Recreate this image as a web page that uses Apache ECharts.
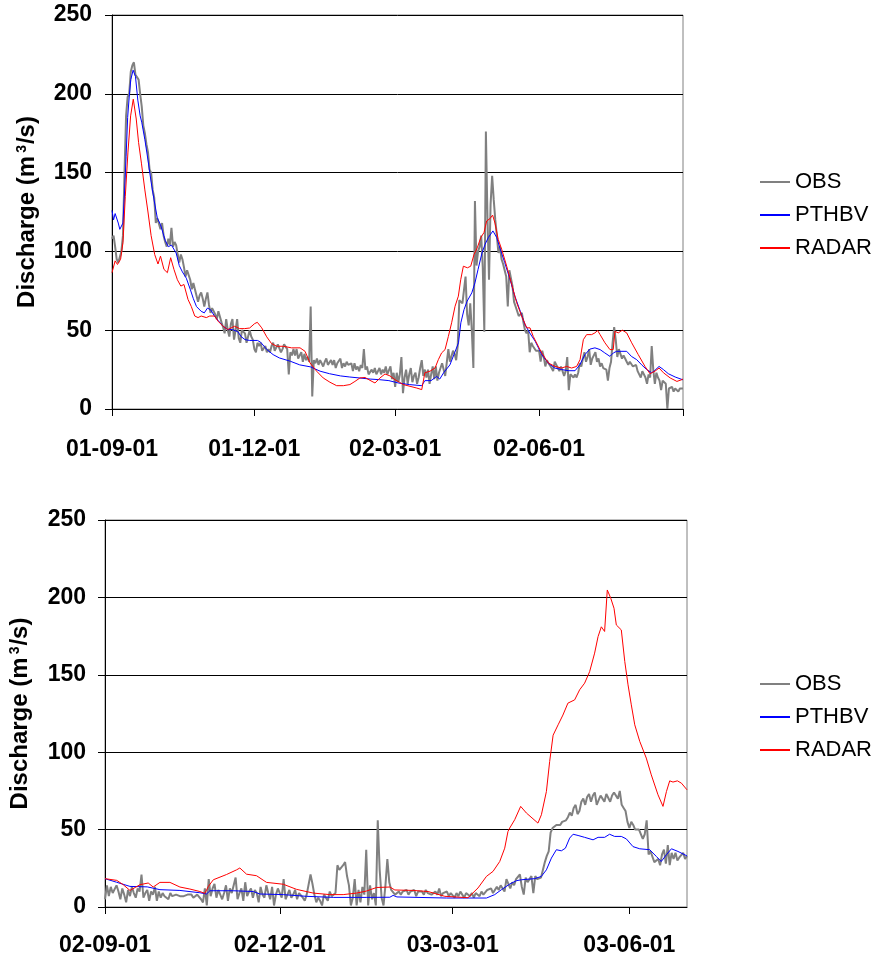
<!DOCTYPE html>
<html>
<head>
<meta charset="utf-8">
<script src="https://cdn.jsdelivr.net/npm/echarts@6/dist/echarts.min.js"></script>
<style>
  html, body { margin: 0; padding: 0; background: #fff; }
  #chart { width: 877px; height: 959px; }
</style>
</head>
<body>
<div id="chart"></div>
<script>
// x = days since the first labelled date of each panel
var topStart = '2001-09-01', bottomStart = '2002-09-01';
var topTickDays = [0, 91, 181, 273, 365];
var topLabelDays = [0, 91, 181, 273];
var topLabelText = ['01-09-01', '01-12-01', '02-03-01', '02-06-01'];
var bottomTickDays = [0, 91, 181, 273];
var bottomLabelDays = [0, 91, 181, 273];
var bottomLabelText = ['02-09-01', '02-12-01', '03-03-01', '03-06-01'];
var yTicks = [0, 50, 100, 150, 200, 250];

// daily observed discharge, 2001-09-01 .. 2002-09-01
var obsTop = [
  108,110,103,95,93,94,100,110,150,186,
  198,200,214,218,220,212,211,209,200,192,
  180,175,168,163,152,150,139,134,118,121,
  120,114,118,110,106,103,108,104,115,103,
  106,104,98,93,98,95,90,84,88,87,
  82,76,80,79,72,68,72,74,70,65,
  70,74,66,61,64,65,60,57,62,61,
  55,52,48,57,50,46,54,57,44,50,
  57,45,42,50,49,48,42,46,50,46,
  44,38,36,42,40,42,37,38,40,36,
  38,36,40,42,37,38,41,40,36,38,
  41,40,38,22,36,34,38,34,38,32,
  34,36,30,35,31,33,30,65,8,31,
  29,32,28,31,29,27,30,32,28,27,
  31,28,31,26,29,28,32,26,29,27,
  30,28,27,29,24,29,25,27,24,28,
  26,38,25,27,22,21,25,23,26,22,
  23,26,22,25,23,27,22,21,27,19,
  23,14,23,17,22,33,10,20,25,16,
  22,26,17,21,23,16,20,26,31,21,
  25,20,25,16,22,27,19,27,18,23,
  22,29,25,21,21,38,30,31,37,35,
  31,40,69,68,67,68,84,60,53,67,
  50,26,132,91,100,103,110,90,49,176,
  122,82,130,148,133,120,110,99,103,95,
  92,88,84,65,88,88,78,68,65,62,
  59,60,61,55,50,48,50,36,42,40,
  39,37,38,37,30,37,33,27,31,29,
  29,26,24,30,30,26,24,27,28,21,
  24,33,12,22,21,20,22,20,23,29,
  27,32,36,30,33,38,28,32,34,36,
  30,32,27,29,26,25,25,18,26,30,
  42,52,44,33,38,35,32,34,32,30,
  28,30,29,27,26,28,24,22,20,24,
  23,20,16,22,20,40,25,16,23,20,
  18,12,18,17,16,0,13,12,14,11,
  13,12,11,13,12,13
];

// [day, value]
var pthbvTop = [
  [0,126],[1,120],[2,124],[4,118],[5,114],[6,115],[7,118],[8,137],[9,160],[10,185],
  [11,198],[12,209],[13.5,215],[15,211],[16.5,196],[18,186],[19,182],[21,171],[23,158],[25,144],
  [27,132],[29,121],[31,117],[32,116],[34,107],[36,103],[38,104],[39,103],[41,99],[43,91],
  [45,87],[47.5,83],[50,76],[52,70],[54,65],[57,62],[59,61],[61,64],[63,63],[65.5,59],
  [68,56],[71,52.5],[74,50.4],[77,50.4],[80.5,49],[82.5,46],[85,44],[88,43.5],[93,43.5],[95,42.4],
  [99,37.7],[103,34.5],[107,32.4],[114,30.3],[120,28],[127,26.7],[133,24],[139,22.4],[146,21],[152,20.3],
  [158,19.7],[165,19],[171,18.6],[177,18],[183,16.5],[190,15.5],[198,14.8],[200,18],[204,18],[207.5,20.7],
  [209.5,19],[212,23],[216,28],[219,35.6],[221.5,42],[223,54.7],[225,63],[227,68.4],[230,73.7],[232,80],
  [234,88.6],[236.5,99],[238.5,104.5],[240.5,108.7],[243.5,113],[246,108.7],[248,102],[251,93],[254.5,82],[257.5,71.6],
  [261,62],[264,53.6],[267,48.3],[270.5,43],[272,40],[274.7,34.5],[279,29],[283,26],[287.5,25],[292,24.3],
  [296,24.3],[299,28],[302.3,34.5],[305.5,38],[308.7,38.8],[312,37.7],[315,35.6],[318.3,33.4],[320.5,35.6],[322.6,36.6],
  [329,36.6],[332,33.4],[335.4,31.3],[338.6,28],[341.8,25],[345,23],[347,24.5],[349.7,27],[352.5,25],[355.6,22.4],
  [360,20.3],[365,18.5]
];

var radarTop = [
  [0,86.5],[2,94],[3.5,91.7],[5.5,95],[7,105.5],[8.5,135],[10.2,163],[11.9,186],[13.6,196.6],[15.5,184],
  [17,169],[18.8,156],[21,139],[23,125],[25,110],[27.3,98],[29.4,92],[31,97],[33.2,88.6],[35.4,86.5],
  [37.5,96],[39.6,88.6],[41.8,82],[44,78],[46,79],[48.6,69.5],[50.7,65],[52.9,59],[55,58],[57,59],
  [60.3,58],[62.5,59],[65.6,59],[67.8,55.7],[71,52.5],[74,50.4],[78.4,52.5],[81.6,51],[84.8,51],[88,51.4],
  [91.2,54.2],[92.9,55],[95.7,51.5],[98.9,45.8],[102,41.5],[105.3,39.8],[109.5,39.8],[114.8,38.8],[120.2,38.8],[123.4,36.6],
  [126.6,29.2],[130.8,24],[135,19.7],[139.3,17],[143.6,14.8],[147.9,14.8],[152.1,15.5],[155.3,17.5],[158.5,19.7],[161.7,20],
  [164.9,18.2],[168.1,16.5],[171.3,19.7],[174.5,22.2],[177.7,21],[180.9,18.6],[183.7,17],[186.2,15.5],[190.5,14.4],[194.8,13.3],
  [198,12.3],[200,23],[203.3,24],[206.5,26],[208.6,31.3],[210.7,35.6],[212.9,37.7],[215,46],[217.1,54.7],[219.3,65.2],
  [221.4,71.6],[222.9,82],[224.6,90.6],[227.2,89.6],[229.3,90.6],[231.4,98],[233.5,102.3],[235.7,108.7],[237.8,112],[239.5,119.3],
  [241.6,120.8],[243.3,123],[244.8,118],[246.9,107.6],[249.1,101.3],[252.3,90.6],[255.5,79],[258.7,67.4],[261.9,58.9],[265.1,51.5],
  [267.2,51.5],[269.3,46],[270.4,45],[273,38.8],[274.7,35.6],[278.9,29.2],[283.2,27],[287.4,26],[290.6,27],[293.8,26],
  [297,27],[299.2,31.3],[301.3,44],[303.4,47.2],[306.6,47.2],[308.7,48.3],[310.4,49.8],[312,47.2],[315.1,42],[318.3,37.7],
  [320.4,37.7],[321.5,49.3],[323.6,48.3],[326.2,50],[329,48.3],[332.2,42],[336.4,34.5],[340.7,27],[343.9,22.4],[347.1,24],
  [349.7,26],[352.5,23],[356.8,19.7],[361.1,17.5],[364.2,18.6],[365,19]
];

// daily observed discharge, 2002-09-01 .. 2003-07-01
var obsBottom = [
  5,14,7,13,9,9,14,10,5,12,
  8,3,11,7,13,9,6,12,10,21,
  6,9,11,4,10,8,13,4,10,6,
  9,7,8,5,9,7,8,8,7,7,
  8,7,7,8,9,8,6,5,8,8,
  5,3,12,1,18,7,12,15,6,11,
  12,5,9,14,4,12,9,8,19,5,
  9,12,4,16,7,10,12,6,11,9,
  3,13,8,6,14,9,5,13,1,8,
  12,9,6,18,5,8,11,6,8,11,
  5,9,10,6,4,8,7,21,15,8,
  3,6,4,1,8,9,4,10,7,6,
  9,27,24,25,27,29,20,14,1,6,
  18,1,11,3,13,8,37,1,14,5,
  9,1,56,24,6,1,14,31,16,11,
  10,8,9,10,8,10,9,11,8,10,
  9,11,7,10,9,10,8,11,9,10,
  8,9,10,8,12,7,9,8,10,7,
  9,8,6,9,7,10,8,6,9,8,
  7,9,6,9,8,7,10,8,9,11,
  10,12,9,10,13,11,14,12,10,18,
  15,12,16,14,18,17,21,13,8,19,
  16,18,20,9,20,18,17,19,20,29,
  33,36,48,51,52,53,52,53,55,54,
  56,58,61,59,64,66,60,62,68,70,
  66,71,73,68,72,74,66,69,72,70,
  68,73,74,68,72,74,73,70,75,66,
  64,62,55,51,55,53,50,51,50,49,
  44,47,56,34,36,35,29,28,31,27,
  34,37,28,40,27,35,31,35,30,32,
  31,35,31,33
];

var pthbvBottom = [
  [0,18.3],[6,16],[13,13.3],[22,13],[28.6,11.2],[39,10.7],[49.4,9.2],[52.9,8.4],[54.6,10.5],[66.8,10.5],
  [77.2,10],[80.6,8.4],[92.8,8],[104.9,6.9],[118.8,6.2],[136,6.2],[148.3,6.3],[150,7.5],[152,6.5],[177.8,5.8],
  [198.6,5.8],[202.9,8],[206.4,11.2],[210.7,14.8],[214.2,17],[216.8,17.6],[223.7,18.3],[227.2,19.8],[229.8,24],[232.4,31.6],
  [235,37],[237.6,36.3],[239.7,38],[241.9,44.5],[243.7,47],[246.3,46.2],[249.7,45],[254.1,43.4],[256.7,45],[260.1,45],
  [262.7,47],[265.3,45.6],[268.8,45.6],[271.4,44],[274.9,39],[278.4,37.6],[283.6,37],[287,32.7],[289.6,29.4],[292.3,33.8],
  [294.9,37.6],[298.3,35.9],[303,33]
];

var radarBottom = [
  [0,18.3],[6.1,17.2],[9.5,14.4],[13,10.7],[18.2,14.4],[22.5,15.5],[25.1,12.9],[28.6,15.9],[33.8,15.9],[39,12.9],
  [44.2,11.6],[49.4,10],[52,8.8],[53.8,13.3],[56.4,17.6],[63.3,21],[68.5,24],[70.2,25.2],[73.7,21.2],[78.9,20.2],
  [84.1,15.9],[92.8,14.7],[99.7,11.4],[108.4,9],[117,8],[124,8],[131,9],[136.1,10.3],[141.4,12.6],[148.3,12.9],
  [150.9,11],[160.4,10.7],[168.2,10],[176.9,6.9],[189,6],[194.2,12.3],[198.6,19.8],[202,23],[205.5,29.4],[208.1,38],
  [209.8,48.8],[210.7,51],[213.3,56.4],[216.4,65],[219.4,60.7],[225.4,54.2],[227.2,59.6],[229.8,74.6],[231.5,94],[233.3,111],
  [235.9,117.7],[238.4,124],[241,131.7],[244.5,133.8],[247.1,140.3],[249.7,144.6],[252.3,152],[254.9,164],[256.7,174.7],[258.4,181],
  [260.1,178],[261.5,204.8],[263.3,199.5],[265,193],[266.2,182.2],[268.8,179],[270.6,158.6],[272.3,143.5],[274,130.6],[275.8,117.7],
  [278.4,107],[281.8,96.2],[284.4,85.4],[287.9,72.5],[290.5,65],[292.3,74.6],[294,81.5],[295.7,80.7],[298,81.5],[300.1,80],
  [303,75.7]
];

var seriesNames = ['OBS', 'PTHBV', 'RADAR'];
var seriesColors = ['#808080', '#0000ff', '#ff0000'];
var seriesWidths = [2, 1, 1];

var font = '"Liberation Sans", Arial, Helvetica, sans-serif';
var myChart = echarts.init(document.getElementById('chart'), null, { renderer: 'canvas' });

function daily(arr) {
  return arr.map(function (v, i) { return [i, v]; });
}

function makeX(gridIndex, max, tickDays, labelDays, labelText, margin) {
  return {
    type: 'value',
    gridIndex: gridIndex,
    min: 0,
    max: max,
    axisLine: { show: true, onZero: false, lineStyle: { color: '#000', width: 1 } },
    axisTick: { show: true, inside: false, length: 7, customValues: tickDays, lineStyle: { color: '#000' } },
    axisLabel: {
      customValues: labelDays,
      margin: margin,
      color: '#000',
      fontFamily: font,
      fontSize: 23,
      fontWeight: 'bold',
      formatter: function (v) {
        var i = labelDays.indexOf(v);
        return i < 0 ? '' : labelText[i];
      }
    },
    splitLine: { show: false }
  };
}

function makeY(gridIndex, margin) {
  return {
    type: 'value',
    gridIndex: gridIndex,
    min: yTicks[0],
    max: yTicks[yTicks.length - 1],
    interval: 50,
    name: 'Discharge (m{sup|3}/s)',
    nameLocation: 'middle',
    nameRotate: 90,
    nameGap: 73,
    nameTextStyle: {
      color: '#000',
      fontFamily: font,
      fontSize: 24,
      fontWeight: 'bold',
      rich: {
        sup: { fontFamily: font, fontSize: 14, fontWeight: 'bold', color: '#000', verticalAlign: 'top', padding: [0, 1, 0, 3] }
      }
    },
    axisLine: { show: true, lineStyle: { color: '#000', width: 1 } },
    axisTick: { show: true, inside: false, length: 7, lineStyle: { color: '#000' } },
    axisLabel: { margin: margin, color: '#000', fontFamily: font, fontSize: 23, fontWeight: 'bold' },
    splitLine: { show: true, lineStyle: { color: '#000', width: 1 } }
  };
}

function makeLegend(top) {
  return {
    orient: 'vertical',
    left: 754,
    top: top,
    itemWidth: 30,
    itemHeight: 2,
    itemGap: 11,
    selectedMode: false,
    data: seriesNames,
    itemStyle: { opacity: 0 },
    textStyle: { color: '#000', fontFamily: font, fontSize: 22, lineHeight: 22 }
  };
}

function makeSeries(idx, data, axisIndex) {
  return {
    name: seriesNames[idx],
    type: 'line',
    xAxisIndex: axisIndex,
    yAxisIndex: axisIndex,
    data: data,
    symbol: 'none',
    showSymbol: false,
    smooth: false,
    lineStyle: { color: seriesColors[idx], width: seriesWidths[idx] },
    itemStyle: { color: seriesColors[idx] },
    z: 2 + idx
  };
}

var option = {
  animation: false,
  backgroundColor: '#fff',
  textStyle: { fontFamily: font },
  grid: [
    { left: 112, top: 15, width: 571, height: 394, show: true, borderColor: '#808080', borderWidth: 1, backgroundColor: 'transparent' },
    { left: 105, top: 520, width: 582, height: 387, show: true, borderColor: '#808080', borderWidth: 1, backgroundColor: 'transparent' }
  ],
  xAxis: [
    makeX(0, 365, topTickDays, topLabelDays, topLabelText, 29),
    makeX(1, 303, bottomTickDays, bottomLabelDays, bottomLabelText, 27)
  ],
  yAxis: [makeY(0, 20), makeY(1, 19)],
  legend: [makeLegend(166), makeLegend(668)],
  series: [
    makeSeries(0, daily(obsTop), 0),
    makeSeries(1, pthbvTop, 0),
    makeSeries(2, radarTop, 0),
    makeSeries(0, daily(obsBottom), 1),
    makeSeries(1, pthbvBottom, 1),
    makeSeries(2, radarBottom, 1)
  ]
};

myChart.setOption(option, true);
</script>
</body>
</html>
